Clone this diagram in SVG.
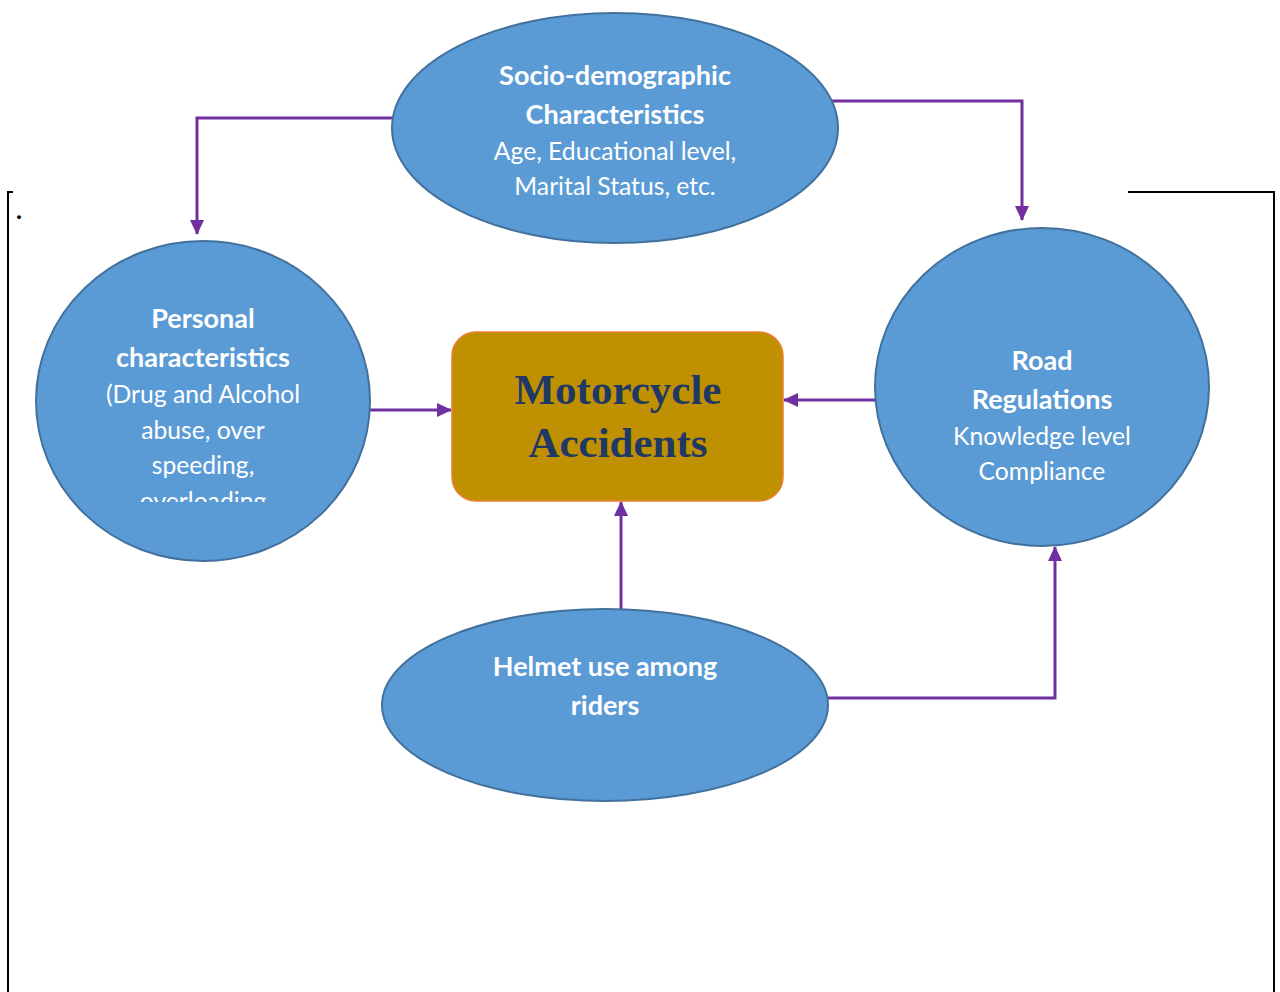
<svg xmlns="http://www.w3.org/2000/svg" width="1280" height="992" viewBox="0 0 1280 992">
<style>
.node{fill:#5B9BD5;stroke:#41719C;stroke-width:2}
.b{font-family:Lato,"Open Sans",sans-serif;font-weight:bold;font-size:27px;fill:#fff;text-anchor:middle}
.r{font-family:Lato,"Open Sans",sans-serif;font-size:24.7px;fill:#fff;text-anchor:middle}
.c{fill:none;stroke:#7030A0;stroke-width:3}
.m{font-family:"Liberation Serif",serif;font-weight:bold;font-size:43px;fill:#1F3864;text-anchor:middle}
</style>
<defs>
<marker id="ah" markerWidth="15" markerHeight="14" refX="14" refY="7" orient="auto" markerUnits="userSpaceOnUse" viewBox="0 0 15 14"><path d="M0,0 L15,7 L0,14 z" fill="#7030A0"/></marker>
<clipPath id="pc"><rect x="36" y="240" width="334" height="262"/></clipPath>
</defs>
<rect width="1280" height="992" fill="#fff"/>
<g id="frame" fill="none" stroke="#000" stroke-width="2">
<path d="M13,192 H8 V992"/>
<path d="M1128,192 H1274 V992"/>
</g>
<text x="16" y="219" font-family="Liberation Serif,serif" font-size="24" font-weight="bold">.</text>
<g id="connectors">
<path class="c" d="M392,118 H197 V234" marker-end="url(#ah)"/>
<path class="c" d="M830,101 H1022 V220" marker-end="url(#ah)"/>
<path class="c" d="M370,410 H451" marker-end="url(#ah)"/>
<path class="c" d="M875,400 H784" marker-end="url(#ah)"/>
<path class="c" d="M621,610 V502" marker-end="url(#ah)"/>
<path class="c" d="M828,698 H1055 V547" marker-end="url(#ah)"/>
</g>
<g id="socio">
<ellipse class="node" cx="615" cy="128" rx="223" ry="115"/>
<text class="b" x="615" y="85">Socio-demographic</text>
<text class="b" x="615" y="124">Characteristics</text>
<text class="r" x="615" y="160">Age, Educational level,</text>
<text class="r" x="615" y="195">Marital Status, etc.</text>
</g>
<g id="personal">
<ellipse class="node" cx="203" cy="401" rx="167" ry="160"/>
<g clip-path="url(#pc)">
<text class="b" x="203" y="328">Personal</text>
<text class="b" x="203" y="367">characteristics</text>
<text class="r" x="203" y="403">(Drug and Alcohol</text>
<text class="r" x="203" y="439">abuse, over</text>
<text class="r" x="203" y="474">speeding,</text>
<text class="r" x="203" y="510">overloading</text>
</g>
</g>
<g id="accidents">
<rect x="452" y="332" width="331" height="169" rx="24" fill="#BF9000" stroke="#ED7D31" stroke-width="1.5"/>
<text class="m" x="618" y="404">Motorcycle</text>
<text class="m" x="618" y="457">Accidents</text>
</g>
<g id="road">
<ellipse class="node" cx="1042" cy="387" rx="167" ry="159"/>
<text class="b" x="1042" y="370">Road</text>
<text class="b" x="1042" y="409">Regulations</text>
<text class="r" x="1042" y="445">Knowledge level</text>
<text class="r" x="1042" y="480">Compliance</text>
</g>
<g id="helmet">
<ellipse class="node" cx="605" cy="705" rx="223" ry="96"/>
<text class="b" x="605" y="676">Helmet use among</text>
<text class="b" x="605" y="715">riders</text>
</g>
</svg>
